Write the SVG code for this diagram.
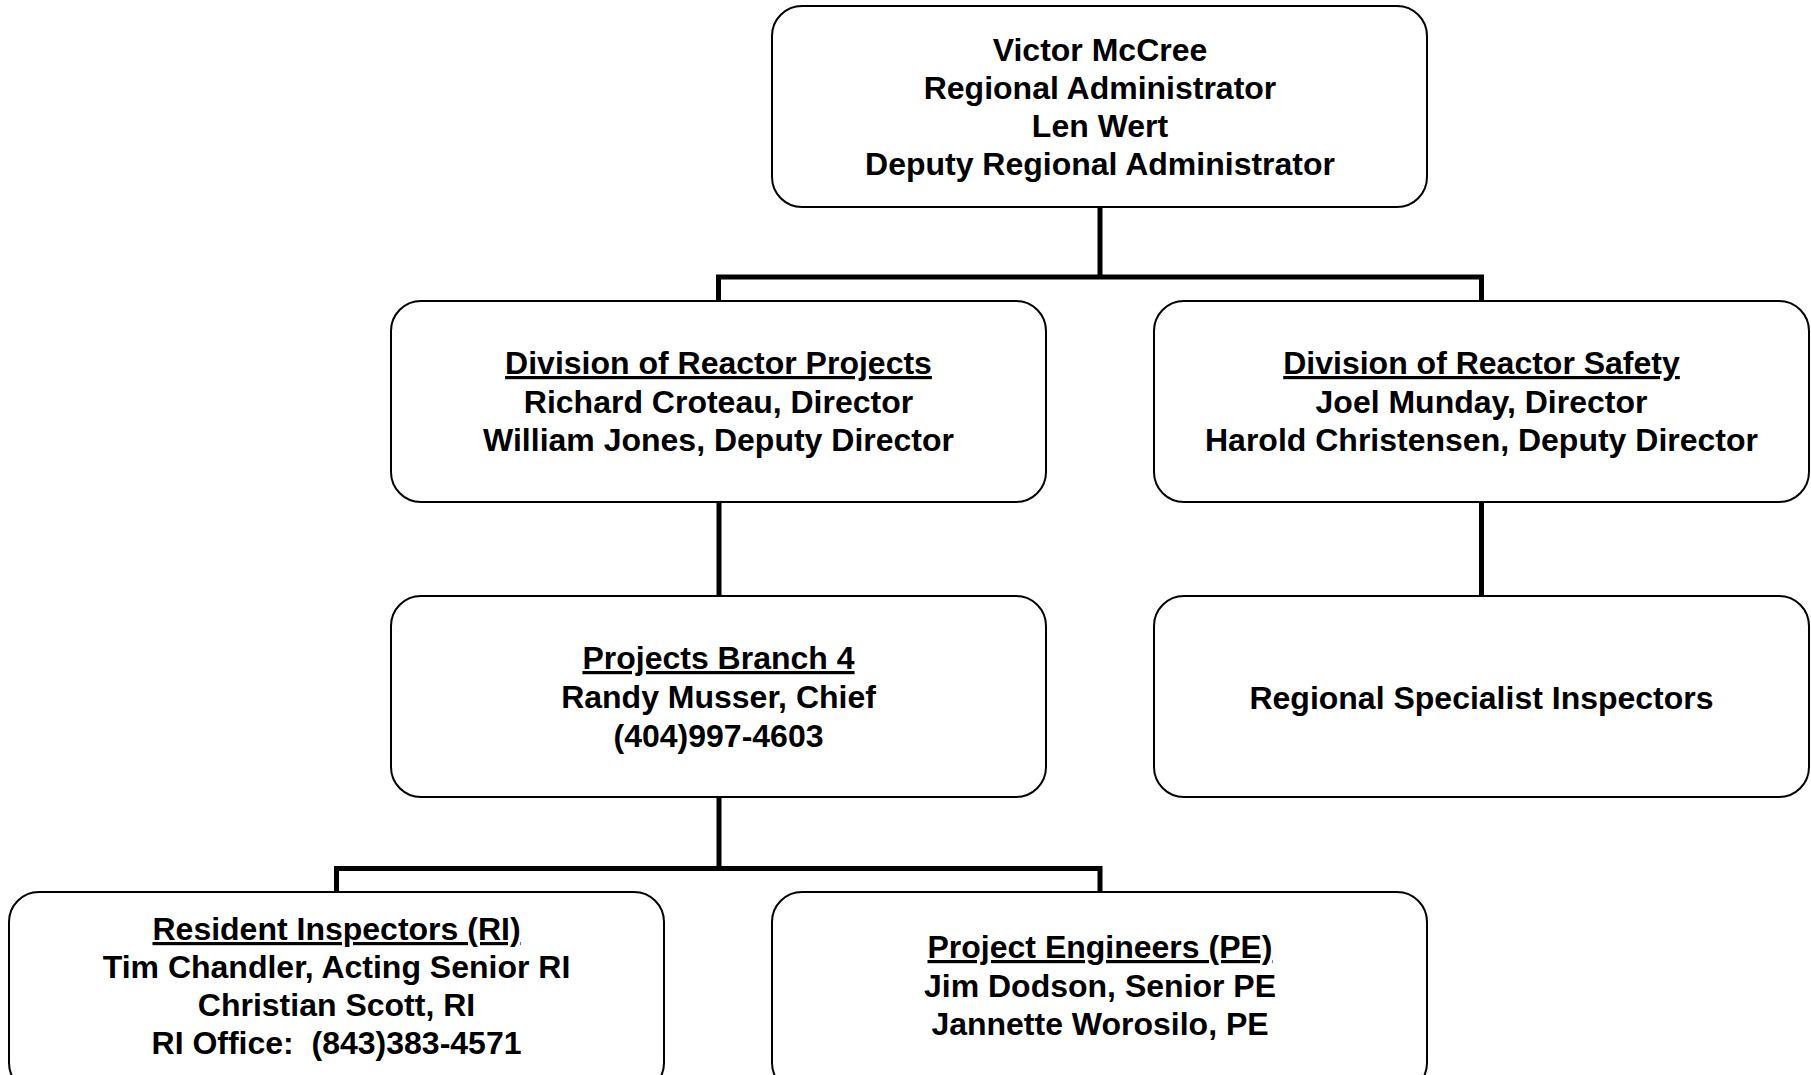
<svg xmlns="http://www.w3.org/2000/svg" width="1811" height="1075" viewBox="0 0 1811 1075">
<style>
.box{fill:#fff;stroke:#000;stroke-width:2}
.t{font-family:"Liberation Sans",Arial,sans-serif;font-weight:bold;font-size:32px;fill:#000;text-anchor:middle;white-space:pre}
.u{text-decoration:underline}
.conn{fill:none;stroke:#000;stroke-width:5;stroke-linejoin:miter;stroke-linecap:butt}
</style>
<rect width="1811" height="1075" fill="#fff"/>
<g id="connectors">
<path class="conn" d="M1100 207 V277"/>
<path class="conn" d="M718.5 301 V277 H1481.5 V301"/>
<path class="conn" d="M719 502 V596"/>
<path class="conn" d="M1481.5 502 V596"/>
<path class="conn" d="M719 797 V868.5"/>
<path class="conn" d="M336.5 892 V868.5 H1100 V892"/>
</g>
<g id="node-admin">
<rect class="box" x="772" y="6" width="655" height="201" rx="30"/>
<text class="t" x="1100" y="61">Victor McCree</text>
<text class="t" x="1100" y="99">Regional Administrator</text>
<text class="t" x="1100" y="137">Len Wert</text>
<text class="t" x="1100" y="175">Deputy Regional Administrator</text>
</g>
<g id="node-drp">
<rect class="box" x="391" y="301" width="655" height="201" rx="30"/>
<text class="t u" x="718.5" y="374">Division of Reactor Projects</text>
<text class="t" x="718.5" y="412.5">Richard Croteau, Director</text>
<text class="t" x="718.5" y="451">William Jones, Deputy Director</text>
</g>
<g id="node-drs">
<rect class="box" x="1154" y="301" width="655" height="201" rx="30"/>
<text class="t u" x="1481.5" y="374">Division of Reactor Safety</text>
<text class="t" x="1481.5" y="412.5">Joel Munday, Director</text>
<text class="t" x="1481.5" y="451">Harold Christensen, Deputy Director</text>
</g>
<g id="node-pb4">
<rect class="box" x="391" y="596" width="655" height="201" rx="30"/>
<text class="t u" x="718.5" y="669">Projects Branch 4</text>
<text class="t" x="718.5" y="708">Randy Musser, Chief</text>
<text class="t" x="718.5" y="746.5">(404)997-4603</text>
</g>
<g id="node-rsi">
<rect class="box" x="1154" y="596" width="655" height="201" rx="30"/>
<text class="t" x="1481.5" y="708.5">Regional Specialist Inspectors</text>
</g>
<g id="node-ri">
<rect class="box" x="9" y="892" width="655" height="201" rx="30"/>
<text class="t u" x="336.5" y="940">Resident Inspectors (RI)</text>
<text class="t" x="336.5" y="978">Tim Chandler, Acting Senior RI</text>
<text class="t" x="336.5" y="1016">Christian Scott, RI</text>
<text class="t" x="336.5" y="1054" xml:space="preserve">RI Office:  (843)383-4571</text>
</g>
<g id="node-pe">
<rect class="box" x="772" y="892" width="655" height="201" rx="30"/>
<text class="t u" x="1100" y="958">Project Engineers (PE)</text>
<text class="t" x="1100" y="996.5">Jim Dodson, Senior PE</text>
<text class="t" x="1100" y="1035">Jannette Worosilo, PE</text>
</g>
</svg>
